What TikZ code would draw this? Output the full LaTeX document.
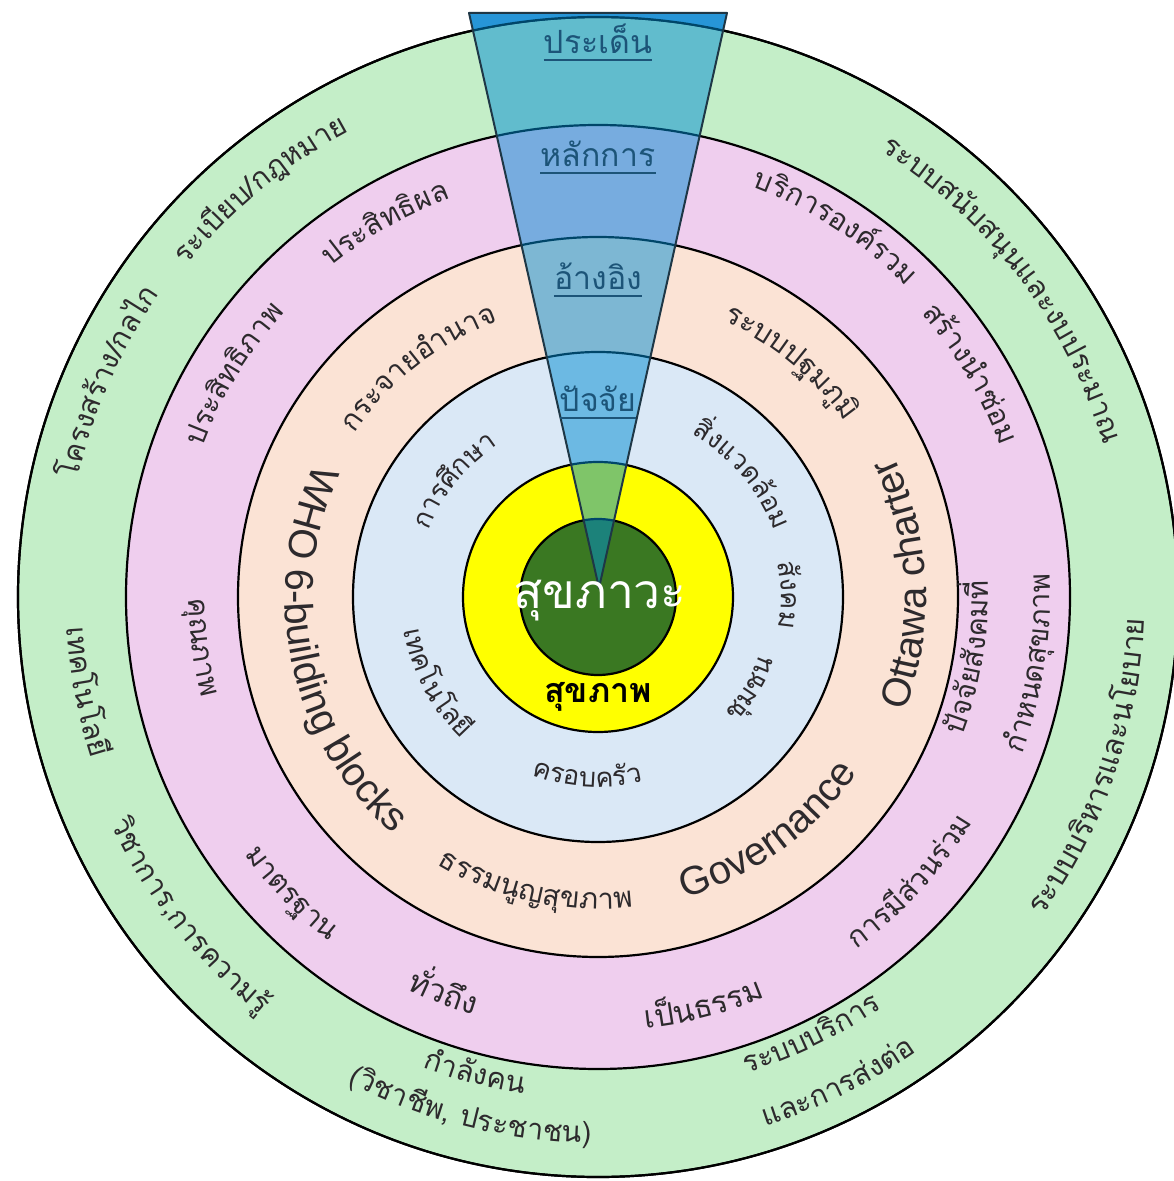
\documentclass[tikz,border=0pt]{standalone}
\usepackage{fontspec}
\setmainfont{Liberation Sans}
\newfontfamily\thaifont[Script=Thai]{Loma}
\usetikzlibrary{decorations.text}
\definecolor{ringgreen}{RGB}{196,238,200}
\definecolor{ringpink}{RGB}{239,206,238}
\definecolor{ringpeach}{RGB}{251,227,213}
\definecolor{ringblue}{RGB}{218,232,246}
\definecolor{coreyellow}{RGB}{255,255,0}
\definecolor{coregreen}{RGB}{58,120,34}
\definecolor{conefill}{RGB}{0,140,210}
\definecolor{capfill}{RGB}{80,160,222}
\definecolor{coneline}{RGB}{30,55,70}
\definecolor{conetext}{RGB}{28,84,120}
\definecolor{labeltext}{RGB}{45,42,45}
\newcommand\thsize[1]{\thaifont\fontsize{#1}{#1}\selectfont}
\newcommand\ensize[1]{\fontsize{#1}{#1}\selectfont}
% clockwise (tops outward): #1 font, #2 baseline radius, #3 mid angle, #4 text
\newcommand\cwlabel[4]{%
 \path[decorate,decoration={text along path,text align=center,text={|#1\color{labeltext}|#4}}] ({#3+80}:#2) arc[start angle={#3+80},end angle={#3-80},radius=#2];}
% counter-clockwise (tops inward)
\newcommand\ccwlabel[4]{%
 \path[decorate,decoration={text along path,text align=center,text={|#1\color{labeltext}|#4}}] ({#3-80}:#2) arc[start angle={#3-80},end angle={#3+80},radius=#2];}
\tikzset{
 ring/.style={draw=black,line width=2.2},
 conelabel/.style={font=\thsize{32},text=conetext,inner sep=0,anchor=base},
 underl/.style={draw=conetext,line width=2.5},
}
\begin{document}
\begin{tikzpicture}[x=1pt,y=1pt]
\fill[white] (-598,-584) rectangle (576,597);
\useasboundingbox (-598,-584) rectangle (576,597);
% rings
\filldraw[ring,fill=ringgreen] (0,0) circle[radius=580];
\filldraw[ring,fill=ringpink] (0,0) circle[radius=472];
\filldraw[ring,fill=ringpeach] (0,0) circle[radius=360];
\filldraw[ring,fill=ringblue] (0,0) circle[radius=245];
\filldraw[ring,fill=coreyellow] (0,0) circle[radius=135];
\filldraw[ring,fill=coregreen] (0,0) circle[radius=78];
% cone
\coordinate (apex) at (1,9);
\coordinate (tl) at (-129,584);
\coordinate (tr) at (129,584);
\begin{scope}
 \clip (apex) -- (tl) -- (tr) -- cycle;
 \fill[capfill,even odd rule] (-200,0) rectangle (200,600) (0,0) circle[radius=580];
\end{scope}
\draw[ring] (0,0) circle[radius=580];
\fill[conefill,fill opacity=0.5] (apex) -- (tl) -- (tr) -- cycle;
\draw[coneline,line width=2,line join=round] (apex) -- (tl) -- (tr) -- cycle;
% cone labels
\node[conelabel] (c1) at (0,543) {ประเด็น};
\node[conelabel] (c2) at (0,430) {หลักการ};
\node[conelabel] (c3) at (0,307) {อ้างอิง};
\node[conelabel] (c4) at (0,185) {ปัจจัย};
\foreach \n in {c1,c2,c3,c4}{\draw[underl] ([yshift=-6]\n.base west) -- ([yshift=-6]\n.base east);}
% core
\node[font=\thsize{48},text=white] (core) at (2,-4) {สุขภาวะ};
\node[font=\thsize{34}\bfseries,text=black] (health) at (0,-100) {สุขภาพ};
% green ring
\cwlabel{\thsize{29}}{528}{129.6}{ระเ{บี}ยบ/กฎหมาย}
\cwlabel{\thsize{29}}{533}{156.3}{โครงส{ร้}าง/กลไก}
\ccwlabel{\thsize{29}}{532}{190.5}{เทคโนโล{ยี}}
\ccwlabel{\thsize{29}}{537}{218}{{วิ}ชาการ,การความ{รู้}}
\ccwlabel{\thsize{29}}{502}{255.5}{{กำ}{ลั}งคน}
\ccwlabel{\thsize{29}}{546}{256}{({วิ}ชา{ชี}พ, ประชาชน)}
\ccwlabel{\thsize{29}}{499}{296}{ระบบบ{ริ}การ}
\ccwlabel{\thsize{29}}{555}{296.3}{และการ{ส่}ง{ต่}อ}
\ccwlabel{\thsize{30}}{547}{341}{ระบบบ{ริ}หารและนโยบาย}
\cwlabel{\thsize{29}}{528}{37.2}{ระบบส{นั}บส{นุ}นและงบประมาณ}
% pink ring
\cwlabel{\thsize{29}}{425}{119.6}{ประ{สิ}ท{ธิ}ผล}
\cwlabel{\thsize{29}}{423}{148.5}{ประ{สิ}ท{ธิ}ภาพ}
\ccwlabel{\thsize{29}}{409}{187.3}{{คุ}ณภาพ}
\ccwlabel{\thsize{29}}{437}{224}{มาตรฐาน}
\ccwlabel{\thsize{31}}{436}{248.7}{{ทั่}ว{ถึ}ง}
\ccwlabel{\thsize{31}}{434}{284.5}{เ{ป็}นธรรม}
\ccwlabel{\thsize{29}}{437}{317.6}{การ{มี}{ส่}วน{ร่}วม}
\ccwlabel{\thsize{29}}{390}{350.8}{{ปั}จ{จั}ย{สั}งคม{ที่}}
\ccwlabel{\thsize{29}}{452}{351.3}{{กำ}หนด{สุ}ขภาพ}
\cwlabel{\thsize{29}}{430}{30.9}{ส{ร้}าง{นำ}{ซ่}อม}
\cwlabel{\thsize{29}}{438}{57.3}{บ{ริ}การอง{ค์}รวม}
% peach ring
\cwlabel{\thsize{29}}{293}{128}{กระจาย{อำ}นาจ}
\ccwlabel{\ensize{40}}{313}{192}{WHO 6-building blocks}
\ccwlabel{\ensize{40}}{313}{306}{Governance}
\ccwlabel{\ensize{40}}{328}{2.5}{Ottawa charter}
\cwlabel{\thsize{29}}{303}{50.5}{ระบบปฐม{ภู}{มิ}}
\ccwlabel{\thsize{29}}{312}{257.7}{ธรรม{นู}ญ{สุ}ขภาพ}
% blue ring
\cwlabel{\thsize{27}}{182}{141}{การ{ศึ}กษา}
\cwlabel{\thsize{27}}{188}{40.5}{{สิ่}งแวด{ล้}อม}
\cwlabel{\thsize{27}}{183}{0.6}{{สั}งคม}
\ccwlabel{\thsize{27}}{187}{328.9}{{ชุ}มชน}
\ccwlabel{\thsize{27}}{190}{266.6}{ครอบค{รั}ว}
\ccwlabel{\thsize{27}}{197}{208}{เทคโนโล{ยี}}
\end{tikzpicture}
\end{document}
